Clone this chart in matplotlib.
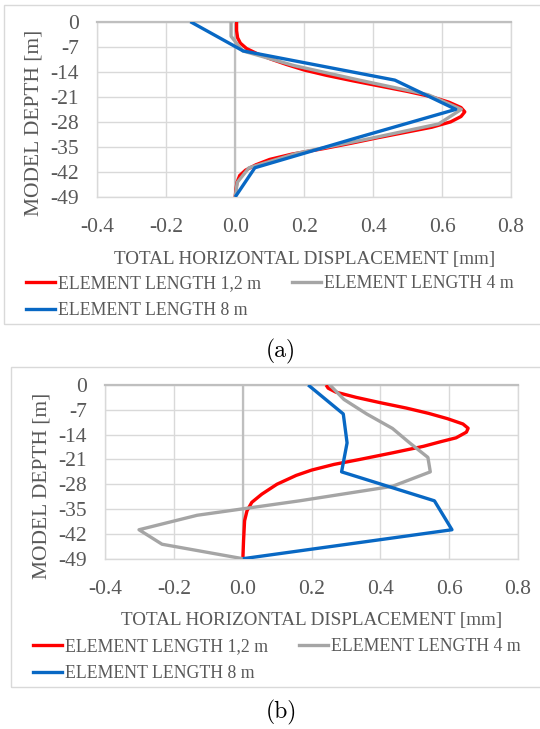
""" Horizontal displacement profiles for three element lengths. """
import matplotlib
matplotlib.use("Agg")
import matplotlib.pyplot as plt
from matplotlib.lines import Line2D
from matplotlib.patches import Rectangle

# ---- data -----------------------------------------------------------------
series_labels = ["ELEMENT LENGTH 1,2 m", "ELEMENT LENGTH 4 m", "ELEMENT LENGTH 8 m"]

# (a)
a_red_depth = [0, -2.5, -4.5, -6, -7.5, -9, -10.5, -12, -13.5, -15, -16.5, -18,
               -19.5, -21, -22.5, -24, -25.2, -26.5, -28, -29.5, -31, -32.5, -34,
               -35.5, -37, -38.5, -40, -41.5, -43, -45, -47, -49]
a_red_disp = [0.004, 0.004, 0.007, 0.015, 0.033, 0.065, 0.105, 0.15, 0.20, 0.265,
              0.34, 0.42, 0.50, 0.57, 0.62, 0.655, 0.666, 0.655, 0.625, 0.57, 0.49,
              0.41, 0.335, 0.255, 0.165, 0.10, 0.06, 0.03, 0.013, 0.005, 0.002, 0.0]
a_gray_depth = [0, -4.08, -8.17, -12.25, -16.33, -20.42, -24.5, -28.58, -32.67,
                -36.75, -40.83, -44.92, -49]
a_gray_disp = [-0.012, -0.012, 0.022, 0.17, 0.36, 0.56, 0.656, 0.59, 0.39, 0.18,
               0.04, 0.006, 0.0]
a_blue_depth = [0, -8.17, -16.33, -24.5, -32.67, -40.83, -49]
a_blue_disp = [-0.13, 0.023, 0.463, 0.64, 0.345, 0.057, 0.0]

# (b)
b_red_depth = [0, -0.9, -2, -3.5, -5, -6.5, -8, -9.5, -11, -12.2, -13.3, -14.9, -16,
               -17.3, -19.1, -21, -22.4, -24, -25.5, -28, -30.8, -33.1, -35.5, -38.3,
               -43.9, -49]
b_red_disp = [0.242, 0.248, 0.27, 0.33, 0.40, 0.475, 0.54, 0.595, 0.64, 0.655, 0.65,
              0.62, 0.575, 0.525, 0.437, 0.34, 0.265, 0.20, 0.155, 0.099, 0.055,
              0.026, 0.012, 0.005, 0.002, 0.0]
b_gray_depth = a_gray_depth
b_gray_disp = [0.253, 0.294, 0.36, 0.435, 0.485, 0.538, 0.545, 0.435, 0.165, -0.133,
               -0.302, -0.235, 0.0]
b_blue_depth = a_blue_depth
b_blue_disp = [0.19, 0.292, 0.303, 0.287, 0.557, 0.608, 0.0]

x_ticks = [-0.4, -0.2, 0.0, 0.2, 0.4, 0.6, 0.8]
y_ticks = [0, -7, -14, -21, -28, -35, -42, -49]

colors = ["#ff0000", "#a5a5a5", "#0868c4"]
text_color = "#595959"

W, H = 540, 729


def fx(px):
    return px / W


def fy(py):
    return 1 - py / H


def draw_panel(fig, rect, series, legend_xy, box, caption, caption_xy):
    left, top, right, bottom = rect
    ax = fig.add_axes([fx(left), fy(bottom), fx(right - left), fy(top) - fy(bottom)])
    for (depth, disp), color in zip(series, colors):
        ax.plot(disp, depth, color=color, lw=2.4, solid_joinstyle="round",
                solid_capstyle="butt", zorder=3)
    ax.set_xlim(-0.4, 0.8)
    ax.set_ylim(-49, 0)
    ax.set_xticks(x_ticks)
    ax.set_xticklabels([f"{t:.1f}" for t in x_ticks])
    ax.set_yticks(y_ticks)
    ax.set_yticklabels([str(t) for t in y_ticks])
    ax.grid(color="#d9d9d9", lw=1.0, zorder=0)
    for side in ["left", "right", "bottom"]:
        ax.spines[side].set_color("#d9d9d9")
        ax.spines[side].set_linewidth(1.0)
    ax.spines["top"].set_color("#bfbfbf")
    ax.spines["top"].set_linewidth(1.6)
    ax.axvline(0, color="#bfbfbf", lw=1.6, zorder=2)
    ax.tick_params(length=0, labelsize=15.5, labelcolor=text_color)
    ax.tick_params(axis="y", pad=13)
    ax.tick_params(axis="x", pad=15)
    ax.set_xlabel("TOTAL HORIZONTAL DISPLACEMENT [mm]", fontsize=13.8,
                  color=text_color, labelpad=10)
    ax.set_ylabel("MODEL DEPTH [m]", fontsize=15.5, color=text_color)
    ax.yaxis.set_label_coords(-0.13, 0.42)

    handles = [Line2D([], [], color=c, lw=2.4) for c in colors]
    order = [0, 2, 1]
    ax.legend([handles[i] for i in order], [series_labels[i] for i in order],
              ncol=2, loc="upper left", bbox_to_anchor=(fx(legend_xy[0]), fy(legend_xy[1])),
              bbox_transform=fig.transFigure, frameon=False, borderpad=0,
              borderaxespad=0, handlelength=1.63, handletextpad=0.17,
              columnspacing=1.75, labelspacing=0.55,
              prop={"family": "Liberation Serif", "size": 12.8},
              labelcolor=text_color)

    bx0, by0, by1 = box
    fig.add_artist(Rectangle((fx(bx0), fy(by1)), 1.2, fy(by0) - fy(by1),
                             transform=fig.transFigure, fill=False,
                             edgecolor="#d9d9d9", lw=1.0))
    fig.text(fx(caption_xy[0]), fy(caption_xy[1]), caption, family="cmr10",
             fontsize=17, ha="center", va="center", color="black")
    return ax


def main() -> None:
    plt.rcParams["font.family"] = ["Liberation Serif", "DejaVu Serif"]
    plt.rcParams["axes.unicode_minus"] = False

    fig = plt.figure(figsize=(W / 100, H / 100), dpi=100)

    draw_panel(fig, (97.3, 21.7, 511, 197),
               [(a_red_depth, a_red_disp), (a_gray_depth, a_gray_disp),
                (a_blue_depth, a_blue_disp)],
               legend_xy=(26, 275), box=(4, 5, 324), caption="(a)",
               caption_xy=(281, 351))
    draw_panel(fig, (105.3, 385, 518, 558.7),
               [(b_red_depth, b_red_disp), (b_gray_depth, b_gray_disp),
                (b_blue_depth, b_blue_disp)],
               legend_xy=(33, 638), box=(11, 367, 687), caption="(b)",
               caption_xy=(281, 712))

    fig.savefig("out.png", dpi=100, facecolor="white")
    plt.close(fig)


if __name__ == "__main__":
    main()
